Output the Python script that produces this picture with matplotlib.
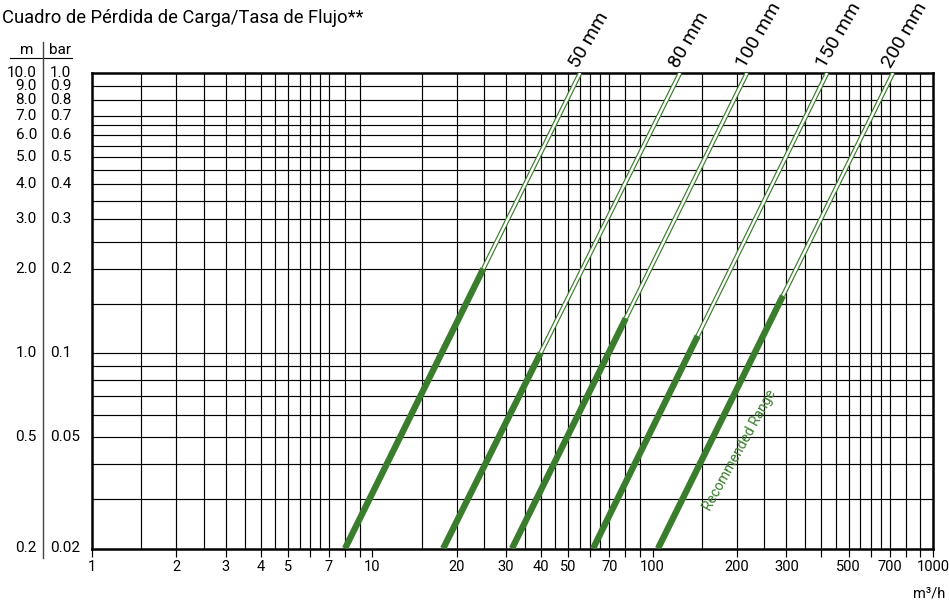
import matplotlib
matplotlib.use('Agg')
import matplotlib.pyplot as plt
import matplotlib.transforms as mtransforms
from matplotlib.ticker import FixedLocator, NullFormatter
import numpy as np

plt.rcParams['font.family'] = ['Roboto', 'DejaVu Sans']

GREEN = '#3a7d2c'
TITLE = 'Cuadro de Pérdida de Carga/Tasa de Flujo**'

# pipe lines: flow (m3/h) where each line meets 0.02 bar and 1.0 bar
pipe_sizes = ['50 mm', '80 mm', '100 mm', '150 mm', '200 mm']
flow_at_bottom = [7.99, 17.9, 31.5, 61.3, 104.5]
flow_at_top = [55.1, 125.2, 217.0, 419.0, 720.0]
recommended_max_bar = [0.2, 0.1, 0.133, 0.115, 0.16]

# left scale labels (bar values and the metres next to them)
bar_ticks = [1.0, 0.9, 0.8, 0.7, 0.6, 0.5, 0.4, 0.3, 0.2, 0.1, 0.05, 0.02]
bar_text = ['1.0', '0.9', '0.8', '0.7', '0.6', '0.5', '0.4', '0.3', '0.2', '0.1', '0.05', '0.02']
m_text = ['10.0', '9.0', '8.0', '7.0', '6.0', '5.0', '4.0', '3.0', '2.0', '1.0', '0.5', '0.2']

x_labels = [1, 2, 3, 4, 5, 7, 10, 20, 30, 40, 50, 70, 100, 200, 300, 500, 700, 1000]
x_tickmarks = [m * d for d in (1, 10, 100) for m in (2, 3, 4, 5, 6, 7, 8, 9)] + [1000]
x_grid_mult = [1.5, 2, 2.5, 3, 3.5, 4, 4.5, 5, 5.5, 6, 6.5, 7, 8, 9]
y_grid = [0.03, 0.04, 0.05, 0.06, 0.07, 0.08, 0.09, 0.1, 0.15, 0.2, 0.25, 0.3,
          0.35, 0.4, 0.45, 0.5, 0.55, 0.6, 0.65, 0.7, 0.8, 0.9]

W, H = 949, 601
fig = plt.figure(figsize=(W / 100, H / 100), dpi=100)
ax = fig.add_axes([92 / W, 1 - 548.5 / H, 841 / W, 475.5 / H])
ax.set_xscale('log')
ax.set_yscale('log')
ax.set_xlim(1, 1000)
ax.set_ylim(0.02, 1.0)

# grid
for d in (1, 10, 100):
    for m in x_grid_mult:
        ax.axvline(m * d, color='black', lw=0.85, zorder=1)
for v in y_grid:
    ax.axhline(v, color='black', lw=0.85, zorder=1)

# pipe lines: thick = recommended range, double thin line above it
for name, q0, q1, rmax in zip(pipe_sizes, flow_at_bottom, flow_at_top, recommended_max_bar):
    lq = np.interp(np.log10(rmax), np.log10([0.02, 1.0]), np.log10([q0, q1]))
    q_mid = 10 ** lq
    ax.plot([q0, q_mid], [0.02, rmax], color=GREEN, lw=4.6, solid_capstyle='butt', zorder=4)
    ax.plot([q_mid, q1], [rmax, 1.0], color=GREEN, lw=3.4, solid_capstyle='butt', zorder=3)
    ax.plot([q_mid, q1], [rmax, 1.0], color='white', lw=1.7, solid_capstyle='butt', zorder=3.5)
    ax.text(q1 * 1.01, 1.02, name, rotation=60, rotation_mode='anchor', ha='left', va='bottom',
            fontsize=14, color='black', clip_on=False)

ax.text(205, 0.045, 'Recommended Range', rotation=61, rotation_mode='anchor', ha='center',
        va='center', fontsize=10, color=GREEN, zorder=5)

# axis ticks
ax.xaxis.set_major_locator(FixedLocator(x_labels))
ax.set_xticklabels([str(v) for v in x_labels])
ax.xaxis.set_minor_locator(FixedLocator(x_tickmarks))
ax.xaxis.set_minor_formatter(NullFormatter())
ax.tick_params(axis='x', which='both', direction='out', length=6, width=0.85, pad=2, labelsize=10.5)
ax.set_yticks([])
ax.yaxis.set_minor_locator(FixedLocator([]))
for s in ax.spines.values():
    s.set_linewidth(1.8)

# left scale table
tr = mtransforms.blended_transform_factory(fig.transFigure, ax.transData)
for b, bt, mt in zip(bar_ticks, bar_text, m_text):
    fig.text(37 / W, b, mt, transform=tr, ha='right', va='center', fontsize=11)
    fig.text(50 / W, b, bt, transform=tr, ha='left', va='center', fontsize=11)
fig.text(27 / W, 1 - 50 / H, 'm', ha='center', va='center', fontsize=11)
fig.text(60 / W, 1 - 50 / H, 'bar', ha='center', va='center', fontsize=11)
fig.add_artist(plt.Line2D([10 / W, 72 / W], [1 - 57.5 / H, 1 - 57.5 / H], color='black', lw=0.8))
fig.add_artist(plt.Line2D([42.7 / W, 42.7 / W], [1 - 42 / H, 1 - 558 / H], color='#444444', lw=1.0))

fig.text(2 / W, 1 - 18 / H, TITLE, ha='left', va='center', fontsize=13.2)
fig.text(945 / W, 1 - 593 / H, 'm³/h', ha='right', va='center', fontsize=10.5)

fig.savefig('out.png', dpi=100)
